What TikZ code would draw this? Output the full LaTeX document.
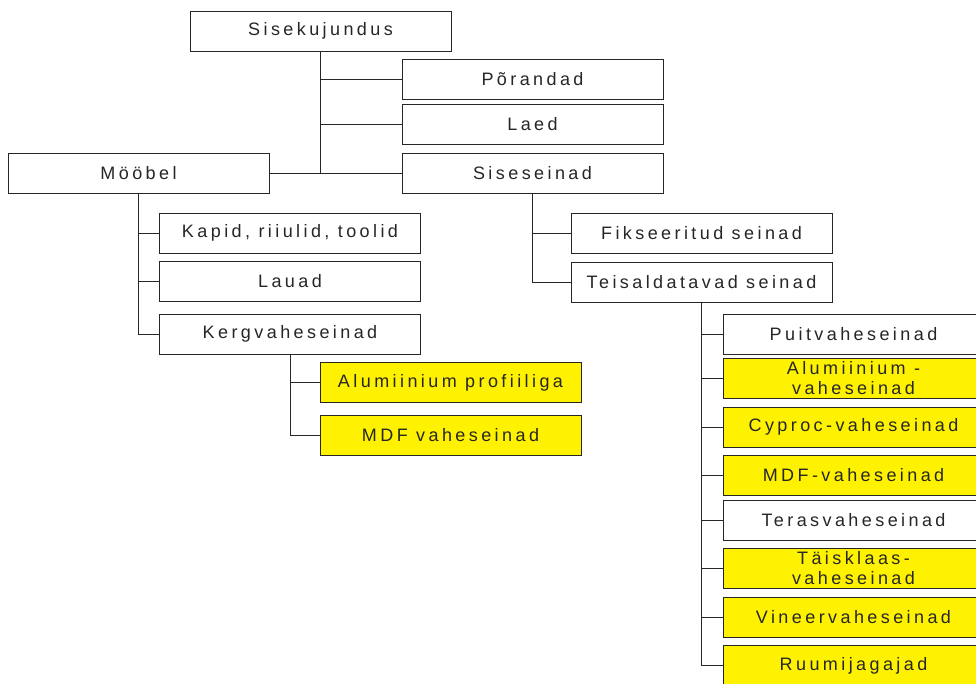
\documentclass[tikz,border=0pt]{standalone}
\usepackage{fontspec}
\newfontfamily\boxfont[LetterSpace=19]{Liberation Sans}
\usetikzlibrary{positioning}

\tikzset{
    item/.style={draw=black!85, line width=0.9pt, fill=white, minimum width=261pt,
        minimum height=40pt, inner sep=0pt, align=center, text=black!85,
        font=\boxfont\fontsize{18}{20}\selectfont},
    marked/.style={item, fill=yellow},
    link/.style={line width=0.9pt, black!85}
}

\begin{document}
\begin{tikzpicture}[x=1pt, y=-1pt]
    \useasboundingbox (0, 0) rectangle (976, 683);
    \clip (0, 0) rectangle (976, 683);

    % Top level
    \node[item] (sise) at (320.5, 31) {Sisekujundus};
    \node[item] (por) at (532.5, 79.5) {Põrandad};
    \node[item] (laed) at (532.5, 124) {Laed};
    \node[item] (seinad) at (532.5, 173) {Siseseinad};
    \node[item] (moobel) at (138.5, 173) {Mööbel};

    % Mööbel branch
    \node[item] (kapid) at (290, 233) {Kapid, riiulid, toolid};
    \node[item] (lauad) at (290, 281.5) {Lauad};
    \node[item] (kerg) at (290, 334) {Kergvaheseinad};
    \node[marked] (alprof) at (450.5, 382.5) {Alumiinium profiiliga};
    \node[marked] (mdfv) at (450.5, 435) {MDF vaheseinad};

    % Siseseinad branch
    \node[item] (fiks) at (701.5, 233) {Fikseeritud seinad};
    \node[item] (teis) at (701.5, 282) {Teisaldatavad seinad};

    % Teisaldatavad seinad branch
    \node[item] (puit) at (853.5, 334) {Puitvaheseinad};
    \node[marked] (alum) at (853.5, 378.5) {Alumiinium -\\vaheseinad};
    \node[marked] (cyproc) at (853.5, 427) {Cyproc-vaheseinad};
    \node[marked] (mdf) at (853.5, 475) {MDF-vaheseinad};
    \node[item] (teras) at (853.5, 520) {Terasvaheseinad};
    \node[marked] (taisk) at (853.5, 568.5) {Täisklaas-\\vaheseinad};
    \node[marked] (vineer) at (853.5, 617) {Vineervaheseinad};
    \node[marked] (ruum) at (853.5, 665.5) {Ruumijagajad};

    % Connectors
    \draw[link] (sise.south) |- (por.west);
    \draw[link] (sise.south) |- (laed.west);
    \draw[link] (sise.south) |- (seinad.west);
    \draw[link] (moobel.east) -- (seinad.west);
    \foreach \child in {kapid, lauad, kerg}
        \draw[link] (moobel.south) |- (\child.west);
    \foreach \child in {alprof, mdfv}
        \draw[link] (kerg.south) |- (\child.west);
    \foreach \child in {fiks, teis}
        \draw[link] (seinad.south) |- (\child.west);
    \foreach \child in {puit, alum, cyproc, mdf, teras, taisk, vineer, ruum}
        \draw[link] (teis.south) |- (\child.west);
\end{tikzpicture}
\end{document}
